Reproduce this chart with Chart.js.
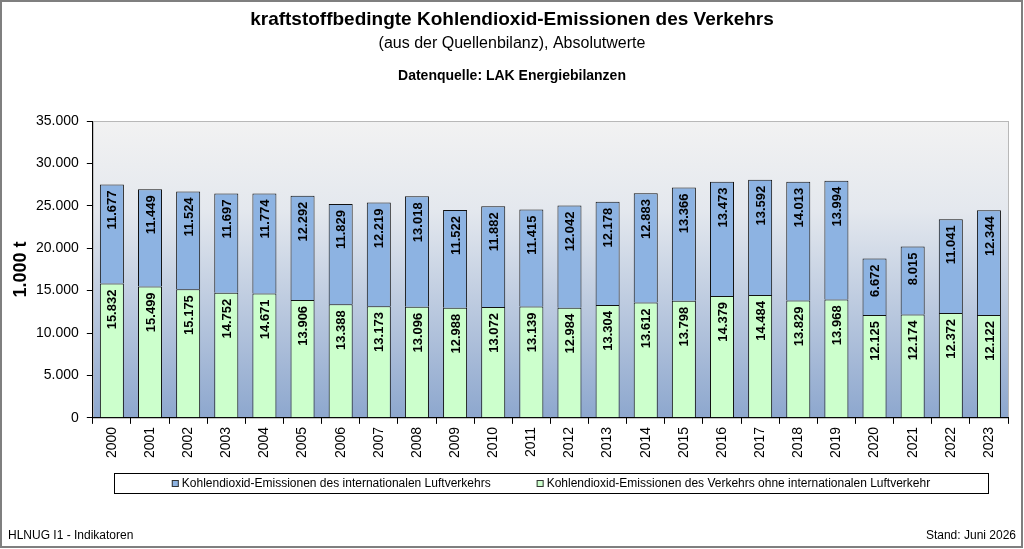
<!DOCTYPE html>
<html>
<head>
<meta charset="utf-8">
<script src="https://cdn.jsdelivr.net/npm/chart.js@4/dist/chart.umd.min.js"></script>
<style>
  html, body { margin: 0; padding: 0; background: #fff; }
  #wrap { width: 1024px; height: 549px; }
</style>
</head>
<body>
<div id="wrap"><canvas id="myChart" width="1024" height="549"></canvas></div>
<script>
/* Daten */
const jahre = ['2000','2001','2002','2003','2004','2005','2006','2007','2008','2009','2010','2011',
  '2012','2013','2014','2015','2016','2017','2018','2019','2020','2021','2022','2023'];

// Verkehr ohne internationalen Luftverkehr (1.000 t)
const ohne_luft = [15832, 15499, 15175, 14752, 14671, 13906, 13388, 13173, 13096, 12988, 13072, 13139,
  12984, 13304, 13612, 13798, 14379, 14484, 13829, 13968, 12125, 12174, 12372, 12122];

// internationaler Luftverkehr (1.000 t)
const int_luft = [11677, 11449, 11524, 11697, 11774, 12292, 11829, 12219, 13018, 11522, 11882, 11415,
  12042, 12178, 12883, 13366, 13473, 13592, 14013, 13994, 6672, 8015, 11041, 12344];

const FONT = '"Liberation Sans", Arial, sans-serif';

function fmt(v) {
  return String(Math.round(v)).replace(/\B(?=(\d{3})+(?!\d))/g, '.');
}

/* Hintergrund, Rahmen, Texte */
const deko = {
  id: 'deko',
  beforeDraw(chart) {
    const c = chart.ctx, a = chart.chartArea;
    c.save();
    c.fillStyle = '#fff';
    c.fillRect(0, 0, chart.width, chart.height);
    const g = c.createLinearGradient(0, a.top, 0, a.bottom);
    g.addColorStop(0, '#f2f2f2');
    g.addColorStop(0.3, '#e4e8ee');
    g.addColorStop(1, '#8da7ce');
    c.fillStyle = g;
    c.fillRect(a.left, a.top, a.right - a.left, a.bottom - a.top);
    c.strokeStyle = '#b8b8b8';
    c.lineWidth = 1;
    c.strokeRect(a.left + 0.5, a.top + 0.5, a.right - a.left, a.bottom - a.top);
    c.restore();
  },
  afterDraw(chart) {
    const c = chart.ctx, a = chart.chartArea;
    c.save();
    // Datenbeschriftung
    c.fillStyle = '#000';
    c.font = 'bold 13px ' + FONT;
    c.textAlign = 'right';
    c.textBaseline = 'middle';
    chart.data.datasets.forEach((ds, i) => {
      chart.getDatasetMeta(i).data.forEach((el, j) => {
        c.save();
        c.translate(el.x + 1, el.y + 6);
        c.rotate(-Math.PI / 2);
        c.fillText(fmt(ds.data[j]), 0, 0);
        c.restore();
      });
    });

    // Achsentitel
    c.save();
    c.translate(21, (a.top + a.bottom) / 2);
    c.rotate(-Math.PI / 2);
    c.textAlign = 'center';
    c.font = 'bold 18px ' + FONT;
    c.fillText('1.000 t', 0, 0);
    c.restore();

    // Titel
    c.textAlign = 'center';
    c.textBaseline = 'alphabetic';
    c.font = 'bold 19px ' + FONT;
    c.fillText('kraftstoffbedingte Kohlendioxid-Emissionen des Verkehrs', 512, 25);
    c.font = '16px ' + FONT;
    c.fillText('(aus der Quellenbilanz), Absolutwerte', 512, 48);
    c.font = 'bold 14px ' + FONT;
    c.fillText('Datenquelle: LAK Energiebilanzen', 512, 80);

    // Legende
    c.fillStyle = '#fff';
    c.fillRect(114, 473, 874, 20);
    c.strokeStyle = '#000';
    c.lineWidth = 1;
    c.strokeRect(114.5, 473.5, 874, 20);
    c.font = '12px ' + FONT;
    c.textAlign = 'left';
    c.textBaseline = 'middle';
    const items = [chart.data.datasets[1], chart.data.datasets[0]];
    const gap = 46;
    const ws = items.map(d => 10 + c.measureText(d.label).width);
    let x = 551 - (ws[0] + ws[1] + gap) / 2;
    items.forEach((d, k) => {
      c.fillStyle = d.backgroundColor;
      c.fillRect(x, 480, 7, 7);
      c.strokeStyle = '#333';
      c.strokeRect(x + 0.5, 480.5, 6, 6);
      c.fillStyle = '#000';
      c.fillText(d.label, x + 10, 484);
      x += ws[k] + gap;
    });

    // Fusszeile
    c.font = '12px ' + FONT;
    c.textBaseline = 'alphabetic';
    c.textAlign = 'left';
    c.fillText('HLNUG I1 - Indikatoren', 8, 539);
    c.textAlign = 'right';
    c.fillText('Stand: Juni 2026', 1016, 539);

    // Rahmen
    c.strokeStyle = '#7f7f7f';
    c.lineWidth = 2;
    c.strokeRect(1, 1, chart.width - 3, chart.height - 3);
    c.restore();
  }
};

const ctx = document.getElementById('myChart').getContext('2d');
const myChart = new Chart(ctx, {
  type: 'bar',
  data: {
    labels: jahre,
    datasets: [
      {
        label: 'Kohlendioxid-Emissionen des Verkehrs ohne internationalen Luftverkehr',
        data: ohne_luft,
        backgroundColor: '#ccffcc',
        borderColor: '#111',
        borderWidth: 1,
        barPercentage: 0.63,
        categoryPercentage: 1
      },
      {
        label: 'Kohlendioxid-Emissionen des internationalen Luftverkehrs',
        data: int_luft,
        backgroundColor: '#8db3e2',
        borderColor: '#111',
        borderWidth: 1,
        barPercentage: 0.63,
        categoryPercentage: 1
      }
    ]
  },
  options: {
    responsive: false,
    animation: false,
    devicePixelRatio: 1,
    layout: { padding: { top: 121, left: 28, right: 16, bottom: 88 } },
    plugins: {
      legend: { display: false },
      title: { display: false },
      tooltip: { enabled: false }
    },
    scales: {
      x: {
        stacked: true,
        grid: { drawOnChartArea: false, color: '#000', tickLength: 6, offset: true },
        border: { color: '#000' },
        ticks: {
          color: '#000',
          font: { family: FONT, size: 14 },
          minRotation: 90,
          maxRotation: 90,
          autoSkip: false,
          padding: 3
        }
      },
      y: {
        stacked: true,
        min: 0,
        max: 35000,
        grid: { drawOnChartArea: false, color: '#000', tickLength: 6 },
        border: { color: '#000' },
        ticks: {
          stepSize: 5000,
          color: '#000',
          font: { family: FONT, size: 14 },
          padding: 8,
          callback: v => fmt(v)
        }
      }
    }
  },
  plugins: [deko]
});
</script>
</body>
</html>
